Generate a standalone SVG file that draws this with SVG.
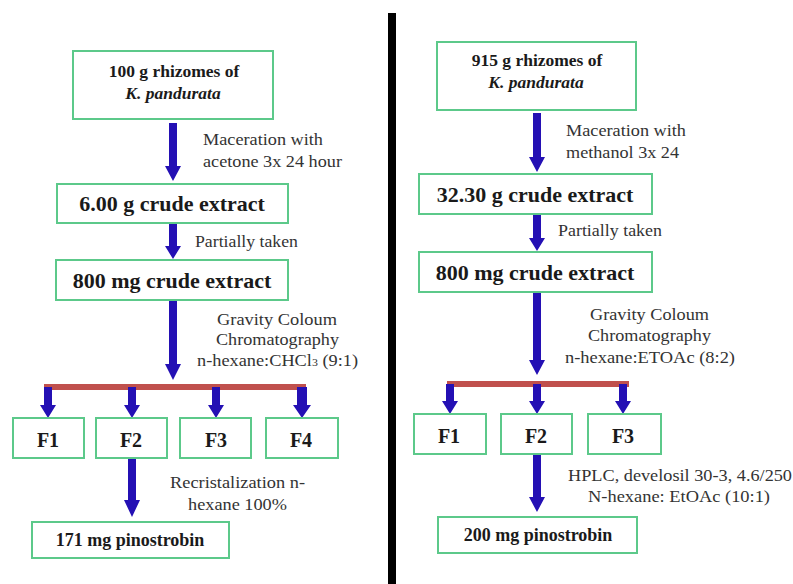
<svg xmlns="http://www.w3.org/2000/svg" width="793" height="584" viewBox="0 0 793 584">
<style>
.box{fill:#fff;stroke:#5cc98a;stroke-width:2}
.t{font-family:"Liberation Serif","Times New Roman",serif;fill:#1a1a1a;font-weight:bold;text-anchor:middle}
.l{font-family:"Liberation Serif","Times New Roman",serif;fill:#333;font-size:17px}
.arr{fill:#2410b4}
.bar{fill:#c0504d}
</style>
<rect width="793" height="584" fill="#fff"/>
<rect x="388" y="13" width="8" height="571" fill="#000"/>

<g id="connectors">
  <path class="arr" d="M169,123 H177 V166 H181 L173,181 L165,166 H169 Z"/>
  <path class="arr" d="M169,223 H177 V246 H181 L173,259 L165,246 H169 Z"/>
  <path class="arr" d="M169,300 H177 V364 H181 L173,380 L165,364 H169 Z"/>
  <rect class="bar" x="44" y="384" width="262" height="6"/>
  <path class="arr" d="M44,387 H52 V405 H56 L48,418 L40,405 H44 Z"/>
  <path class="arr" d="M128,387 H136 V405 H140 L132,418 L124,405 H128 Z"/>
  <path class="arr" d="M212,387 H220 V405 H224 L216,418 L208,405 H212 Z"/>
  <path class="arr" d="M297,387 H307 V405 H311 L302,418 L293,405 H297 Z"/>
  <path class="arr" d="M128,458 H136 V500 H140 L132,517 L124,500 H128 Z"/>
  <path class="arr" d="M533,113 H541 V157 H545 L537,172 L529,157 H533 Z"/>
  <path class="arr" d="M533,214 H541 V238 H545 L537,251 L529,238 H533 Z"/>
  <path class="arr" d="M533,292 H541 V360 H545 L537,375 L529,360 H533 Z"/>
  <rect class="bar" x="447" y="381" width="182" height="6"/>
  <path class="arr" d="M446,384 H454 V401 H458 L450,414 L442,401 H446 Z"/>
  <path class="arr" d="M533,384 H541 V401 H545 L537,414 L529,401 H533 Z"/>
  <path class="arr" d="M619,384 H627 V401 H631 L623,414 L615,401 H619 Z"/>
  <path class="arr" d="M533,454 H541 V497 H545 L537,512 L529,497 H533 Z"/>
</g>

<g id="labels">
  <text class="l" x="203" y="145" textLength="120" lengthAdjust="spacingAndGlyphs">Maceration with</text>
  <text class="l" x="203" y="167" textLength="139" lengthAdjust="spacingAndGlyphs">acetone 3x 24 hour</text>
  <text class="l" x="195" y="247" textLength="103" lengthAdjust="spacingAndGlyphs">Partially taken</text>
  <text class="l" x="217" y="325" textLength="120" lengthAdjust="spacingAndGlyphs">Gravity Coloum</text>
  <text class="l" x="216" y="345" textLength="123" lengthAdjust="spacingAndGlyphs">Chromatography</text>
  <text class="l" x="197" y="366" textLength="161" lengthAdjust="spacingAndGlyphs">n-hexane:CHCl<tspan font-size="11">3</tspan> (9:1)</text>
  <text class="l" x="170" y="488" textLength="135" lengthAdjust="spacingAndGlyphs">Recristalization n-</text>
  <text class="l" x="188" y="510" textLength="99" lengthAdjust="spacingAndGlyphs">hexane 100%</text>

  <text class="l" x="566" y="136" textLength="120" lengthAdjust="spacingAndGlyphs">Maceration with</text>
  <text class="l" x="566" y="158" textLength="113" lengthAdjust="spacingAndGlyphs">methanol 3x 24</text>
  <text class="l" x="558" y="236" textLength="104" lengthAdjust="spacingAndGlyphs">Partially taken</text>
  <text class="l" x="590" y="320" textLength="119" lengthAdjust="spacingAndGlyphs">Gravity Coloum</text>
  <text class="l" x="588" y="341" textLength="123" lengthAdjust="spacingAndGlyphs">Chromatography</text>
  <text class="l" x="565" y="363" textLength="170" lengthAdjust="spacingAndGlyphs">n-hexane:ETOAc (8:2)</text>
  <text class="l" x="568" y="481" textLength="224" lengthAdjust="spacingAndGlyphs">HPLC, develosil 30-3, 4.6/250</text>
  <text class="l" x="588" y="502" textLength="182" lengthAdjust="spacingAndGlyphs">N-hexane: EtOAc (10:1)</text>
</g>

<g id="L1"><rect class="box" x="73" y="51" width="200" height="68"/>
  <text class="t" x="174" y="77" font-size="17.5">100 g rhizomes of</text>
  <text class="t" x="173" y="99" font-size="17.5" font-style="italic">K. pandurata</text></g>
<g id="L2"><rect class="box" x="57" y="184" width="231" height="39"/>
  <text class="t" x="172" y="211" font-size="22">6.00 g crude extract</text></g>
<g id="L3"><rect class="box" x="56" y="260" width="232" height="40"/>
  <text class="t" x="172" y="288" font-size="22">800 mg crude extract</text></g>
<g id="LF1"><rect class="box" x="13" y="418" width="71" height="40"/><text class="t" x="48" y="447" font-size="20">F1</text></g>
<g id="LF2"><rect class="box" x="96" y="418" width="71" height="40"/><text class="t" x="131" y="447" font-size="20">F2</text></g>
<g id="LF3"><rect class="box" x="180" y="418" width="71" height="40"/><text class="t" x="216" y="447" font-size="20">F3</text></g>
<g id="LF4"><rect class="box" x="266" y="418" width="72" height="40"/><text class="t" x="301" y="447" font-size="20">F4</text></g>
<g id="L4"><rect class="box" x="32" y="522" width="197" height="36"/>
  <text class="t" x="130" y="546" font-size="18">171 mg pinostrobin</text></g>

<g id="R1"><rect class="box" x="437" y="42" width="199" height="68"/>
  <text class="t" x="537" y="66" font-size="17.5">915 g rhizomes of</text>
  <text class="t" x="536" y="88" font-size="17.5" font-style="italic">K. pandurata</text></g>
<g id="R2"><rect class="box" x="419" y="174" width="233" height="40"/>
  <text class="t" x="535" y="202" font-size="22">32.30 g crude extract</text></g>
<g id="R3"><rect class="box" x="419" y="252" width="233" height="40"/>
  <text class="t" x="535" y="280" font-size="22">800 mg crude extract</text></g>
<g id="RF1"><rect class="box" x="414" y="414" width="72" height="40"/><text class="t" x="449" y="443" font-size="20">F1</text></g>
<g id="RF2"><rect class="box" x="501" y="414" width="71" height="40"/><text class="t" x="536" y="443" font-size="20">F2</text></g>
<g id="RF3"><rect class="box" x="588" y="414" width="73" height="40"/><text class="t" x="623" y="443" font-size="20">F3</text></g>
<g id="R4"><rect class="box" x="438" y="517" width="199" height="36"/>
  <text class="t" x="538" y="541" font-size="18">200 mg pinostrobin</text></g>
</svg>
